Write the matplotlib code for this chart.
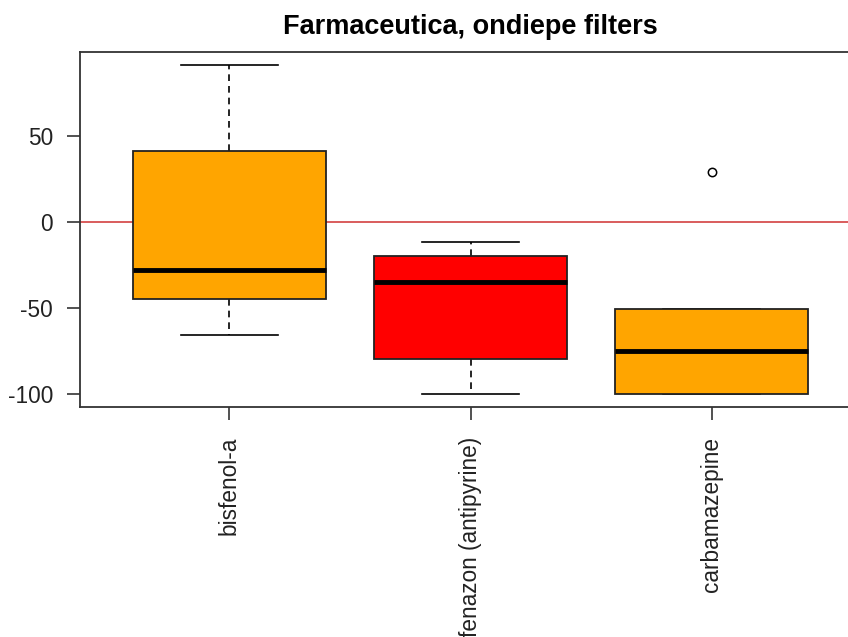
import matplotlib.pyplot as plt

plt.rcParams['font.family'] = ['Liberation Sans', 'DejaVu Sans']
plt.rcParams['axes.unicode_minus'] = False

# Samenvatting per stof (kwartielen, whiskers, uitschieters)
stoffen = ["bisfenol-a", "fenazon (antipyrine)", "carbamazepine"]
q1 = [-45, -80, -100]
mediaan = [-28, -35, -75]
q3 = [41, -20, -50.5]
whisker_laag = [-66, -100, -100]
whisker_hoog = [91, -12, -50.5]
uitschieters = [[], [], [29]]
kleuren = ["#FFA500", "#FF0000", "#FFA500"]

stats = []
for i in range(len(stoffen)):
    stats.append({
        "label": stoffen[i],
        "q1": q1[i],
        "med": mediaan[i],
        "q3": q3[i],
        "whislo": whisker_laag[i],
        "whishi": whisker_hoog[i],
        "fliers": uitschieters[i],
    })

fig = plt.figure(figsize=(8.48, 6.37), dpi=100)
ax = fig.add_axes([80 / 848, 230 / 637, 781 / 848, 355 / 637])

bp = ax.bxp(stats, positions=[1, 2, 3], widths=0.8, capwidths=0.4,
            patch_artist=True,
            boxprops=dict(edgecolor="#222222", linewidth=1.3, zorder=3),
            medianprops=dict(color="black", linewidth=3.5, solid_capstyle="butt", zorder=4),
            whiskerprops=dict(color="black", linewidth=1.2, linestyle=(0, (4, 3))),
            capprops=dict(color="black", linewidth=1.2),
            flierprops=dict(marker="o", markersize=6, markerfacecolor="none",
                            markeredgecolor="black", markeredgewidth=1.1))
for patch, kleur in zip(bp["boxes"], kleuren):
    patch.set_facecolor(kleur)

# nullijn
ax.axhline(0, color="#D03030", linewidth=1.1, zorder=0.5)

ax.set_xlim(0.38, 3.62)
ax.set_ylim(-107.6, 98.6)
ax.set_yticks([-100, -50, 0, 50])
ax.set_xticks([1, 2, 3])
ax.set_xticklabels(stoffen, rotation=90)
ax.tick_params(axis="both", direction="out", length=9.5, width=1.1,
               labelsize=16.3, colors="#222222")
ax.tick_params(axis="y", pad=10)
ax.tick_params(axis="x", pad=12)
for sp in ax.spines.values():
    sp.set_color("#333333")
    sp.set_linewidth(1.3)

fig.text(470.5 / 848, 1 - 27 / 637, "Farmaceutica, ondiepe filters",
         ha="center", va="center", fontsize=19.5, fontweight="bold")

fig.savefig("out.png", dpi=100)
